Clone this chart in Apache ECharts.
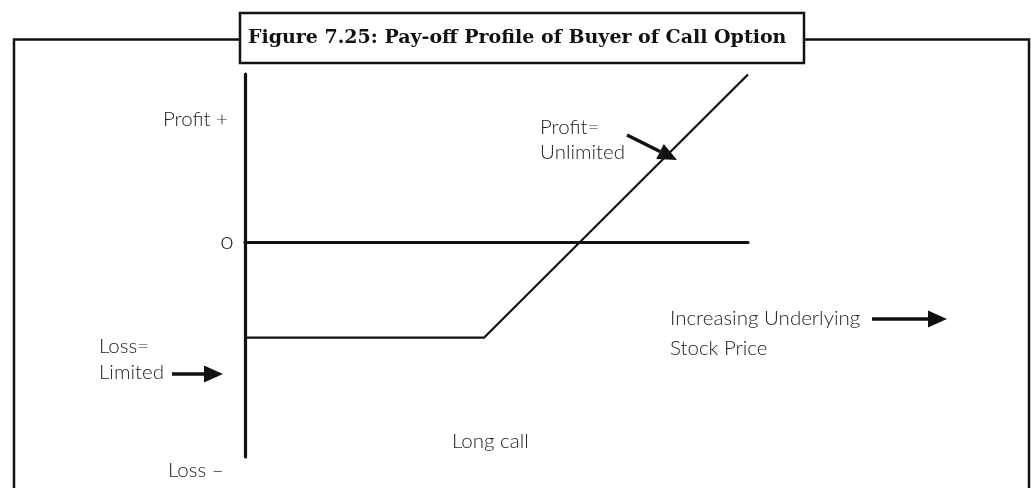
<!DOCTYPE html>
<html>
<head>
<meta charset="utf-8">
<script src="https://cdn.jsdelivr.net/npm/echarts@6/dist/echarts.min.js"></script>
<style>
  html, body { margin: 0; padding: 0; background: #fff; }
  #main { width: 1031px; height: 488px; }
</style>
</head>
<body>
<div id="main"></div>
<script>
// long call pay-off: flat loss (premium) until strike, then rising 45 deg
var stockPrice = [0, 47.5, 100];
var payoff = [-19, -19, 33.3];
var titleText = "Figure 7.25: Pay-off Profile of Buyer of Call Option";

var chartDom = document.getElementById("main");
var myChart = echarts.init(chartDom);

var txtFont = "Lato, 'Open Sans', sans-serif";
var ink = "#111";

function label(text, x, y, align, size) {
  return {
    type: "text",
    x: x,
    y: y,
    z: 20,
    style: {
      text: text,
      fill: "#222",
      font: "300 " + (size || 20.5) + "px " + txtFont,
      textAlign: align || "left",
      textVerticalAlign: "middle"
    }
  };
}

// arrow = shaft + triangular head, from (x1,y1) to tip (x2,y2)
function arrow(x1, y1, x2, y2) {
  var dx = x2 - x1, dy = y2 - y1;
  var len = Math.sqrt(dx * dx + dy * dy);
  var ux = dx / len, uy = dy / len;
  var hl = 19, hw = 8.5;
  var bx = x2 - ux * hl, by = y2 - uy * hl;
  return {
    type: "group",
    z: 20,
    children: [
      {
        type: "line",
        shape: { x1: x1, y1: y1, x2: bx, y2: by },
        style: { stroke: ink, lineWidth: 3.5 }
      },
      {
        type: "polygon",
        shape: {
          points: [
            [x2, y2],
            [bx - uy * hw, by + ux * hw],
            [bx + uy * hw, by - ux * hw]
          ]
        },
        style: { fill: ink }
      }
    ]
  };
}

var option = {
  animation: false,
  backgroundColor: "#fff",
  title: {
    text: titleText,
    left: 248,
    top: 27,
    padding: 0,
    z: 30,
    textStyle: {
      fontFamily: "'DejaVu Serif', serif",
      fontWeight: "bold",
      fontSize: 19,
      color: "#111",
      lineHeight: 22
    }
  },
  grid: { left: 245, right: 283, top: 74, bottom: 31 },
  xAxis: {
    type: "value",
    min: 0,
    max: 100,
    axisLine: { show: true, onZero: true, lineStyle: { color: ink, width: 3.2 } },
    axisTick: { show: false },
    axisLabel: { show: false },
    splitLine: { show: false }
  },
  yAxis: {
    type: "value",
    min: -42.7,
    max: 33.4,
    axisLine: { show: true, onZero: false, lineStyle: { color: ink, width: 3.2 } },
    axisTick: { show: false },
    axisLabel: { show: false },
    splitLine: { show: false }
  },
  series: [
    {
      name: "Long call",
      type: "line",
      data: stockPrice.map(function (p, i) { return [p, payoff[i]]; }),
      symbol: "none",
      lineStyle: { color: ink, width: 2.2 },
      clip: false
    }
  ],
  graphic: [
    {
      type: "polyline",
      z: 1,
      shape: { points: [[14, 500], [14, 39.5], [1029, 39.5], [1029, 500]] },
      style: { stroke: ink, lineWidth: 2.5, fill: null }
    },
    {
      type: "rect",
      z: 2,
      shape: { x: 240, y: 13, width: 564, height: 50 },
      style: { fill: "#fff", stroke: ink, lineWidth: 2.5 }
    },
    label("Profit +", 228, 119, "right"),
    label("o", 227, 241, "center", 24),
    label("Loss \u2013", 168, 470),
    label("Loss=", 99, 346),
    label("Limited", 99, 372),
    label("Profit=", 540, 127),
    label("Unlimited", 540, 152),
    label("Long call", 452, 441),
    label("Increasing Underlying", 670, 318),
    label("Stock Price", 670, 348),
    arrow(627, 135, 677, 160),
    arrow(172, 374, 223, 374),
    arrow(872, 319, 947, 319)
  ]
};

option && myChart.setOption(option);

window.addEventListener("resize", function () {
  myChart.resize();
});
</script>
</body>
</html>
